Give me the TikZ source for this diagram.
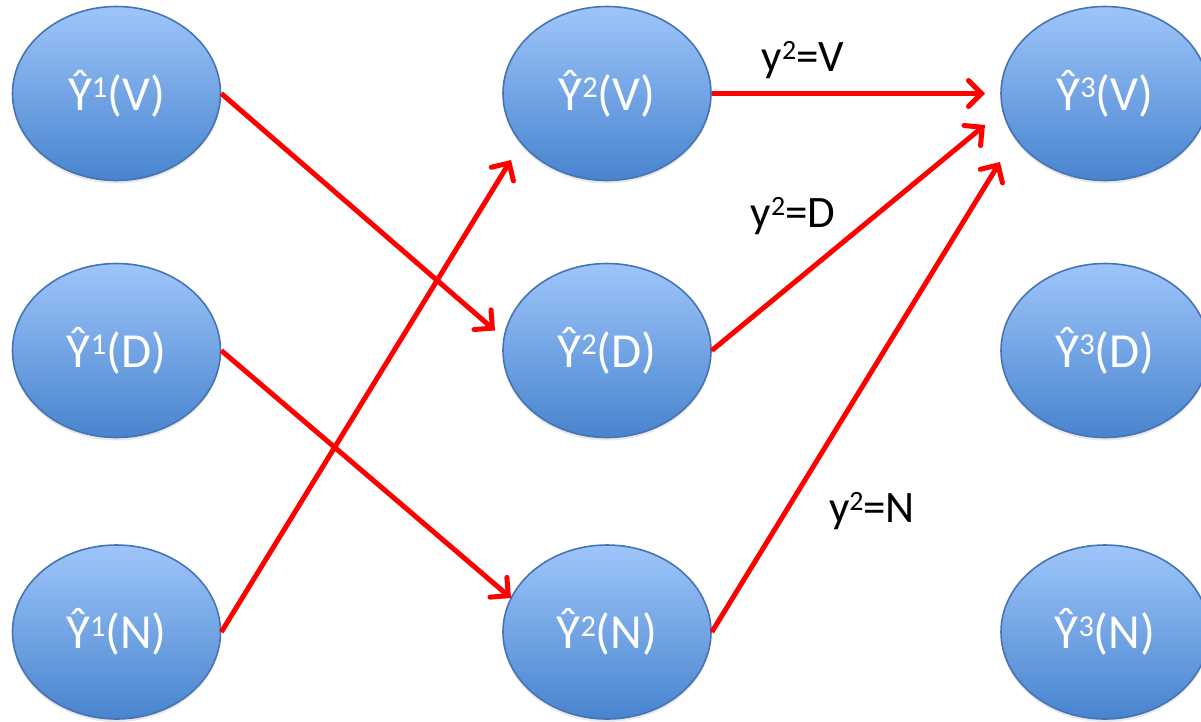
\documentclass[tikz,border=0pt]{standalone}
\usepackage{fontspec}
\setmainfont{Carlito}
\usetikzlibrary{shapes.geometric,arrows.meta,calc,shadows}
\definecolor{elltop}{RGB}{158,197,250}
\definecolor{ellbot}{RGB}{72,132,206}
\definecolor{ellborder}{RGB}{70,115,180}
\newcommand\supr[1]{\raisebox{0.25em}{\scalebox{0.62}{#1}}}
\begin{document}
\begin{tikzpicture}[x=1pt,y=1pt,
  state/.style={ellipse, minimum width=208pt, minimum height=174pt, inner sep=0pt,
    draw=ellborder, line width=1.6pt, top color=elltop, bottom color=ellbot,
    drop shadow={opacity=0.18, shadow xshift=0pt, shadow yshift=-3pt},
    text=white, font=\fontsize{49}{52}\selectfont},
  arr/.style={draw={rgb,255:red,255;green,0;blue,0}, line width=5pt,
    -{Straight Barb[length=13pt,width=26pt,line cap=round]}},
  lab/.style={text=black, font=\fontsize{45}{48}\selectfont, inner sep=0pt}]
\clip (0,0) rectangle (1201,-721);
\useasboundingbox (0,0) rectangle (1201,-721);
\node[state] (a1) at (116.5,-93.5) {Ŷ\supr{1}(V)};
\node[state] (a2) at (116.5,-350.5) {Ŷ\supr{1}(D)};
\node[state] (a3) at (116.5,-632) {Ŷ\supr{1}(N)};
\node[state] (b1) at (607,-93.5) {Ŷ\supr{2}(V)};
\node[state] (b2) at (607,-350.5) {Ŷ\supr{2}(D)};
\node[state] (b3) at (607,-632) {Ŷ\supr{2}(N)};
\node[state] (c1) at (1105,-93.5) {Ŷ\supr{3}(V)};
\node[state] (c2) at (1105,-350.5) {Ŷ\supr{3}(D)};
\node[state] (c3) at (1105,-632) {Ŷ\supr{3}(N)};
\draw[arr] (a1.east) -- ($(b2)+(-112,20)$);
\draw[arr] (a2.east) -- ($(b3)+(-96,34)$);
\draw[arr] (a3.east) -- ($(b1)+(-96,-66.5)$);
\draw[arr] (b1.east) -- ($(c1)+(-120,0)$);
\draw[arr] (b2.east) -- ($(c1)+(-120,-31.5)$);
\draw[arr] (b3.east) -- ($(c1)+(-105,-68.5)$);
\node[lab] (lv) at (803,-60) {y\supr{2}=V};
\node[lab] (ld) at (793,-216) {y\supr{2}=D};
\node[lab] (ln) at (872,-511) {y\supr{2}=N};
\end{tikzpicture}
\end{document}
